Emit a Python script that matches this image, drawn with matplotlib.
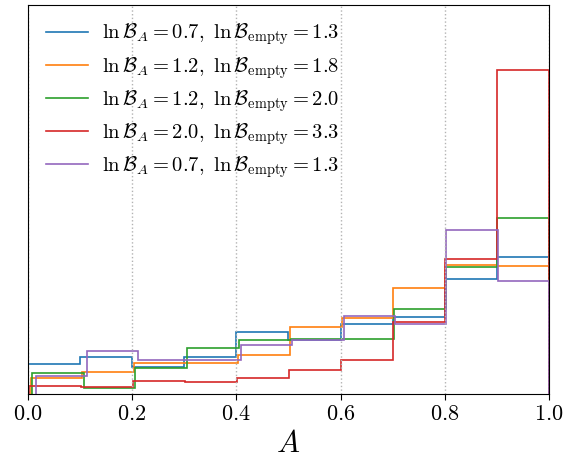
import numpy as np
import matplotlib
matplotlib.use("Agg")
import matplotlib.pyplot as plt

plt.rcParams['font.family'] = 'serif'
plt.rcParams['font.serif'] = ['cmr10']
plt.rcParams['mathtext.fontset'] = 'cm'
plt.rcParams['axes.formatter.use_mathtext'] = True

# histogram heights per series (arbitrary units, 10 bins each)
blue = [29.7, 37.0, 26.7, 37.3, 62.3, 54.0, 70.3, 76.7, 115.0, 137.3]
orange = [15.7, 22.0, 30.7, 30.7, 38.7, 67.3, 76.0, 106.3, 129.0, 128.3]
green = [21.3, 6.3, 26.0, 46.3, 54.0, 55.0, 55.3, 85.3, 127.3, 175.7]
red = [8.3, 7.3, 13.3, 12.3, 16.3, 24.0, 34.0, 71.7, 135.0, 324.0]
purple = [18.0, 42.7, 34.0, 34.0, 49.0, 54.0, 78.0, 70.0, 163.7, 112.7]

# lowest sample of each series (histogram range is [lo, 1])
lows = [0.0, 0.005, 0.008, 0.002, 0.015]

labels = [
    r'$\ln\mathcal{B}_A = 0.7,\ \ln\mathcal{B}_{\rm empty} = 1.3$',
    r'$\ln\mathcal{B}_A = 1.2,\ \ln\mathcal{B}_{\rm empty} = 1.8$',
    r'$\ln\mathcal{B}_A = 1.2,\ \ln\mathcal{B}_{\rm empty} = 2.0$',
    r'$\ln\mathcal{B}_A = 2.0,\ \ln\mathcal{B}_{\rm empty} = 3.3$',
    r'$\ln\mathcal{B}_A = 0.7,\ \ln\mathcal{B}_{\rm empty} = 1.3$',
]
colors = ['tab:blue', 'tab:orange', 'tab:green', 'tab:red', 'tab:purple']

fig = plt.figure(figsize=(5.7, 4.59), dpi=100)
ax = fig.add_axes([0.049, 0.1416, 0.914, 0.847])

for h, lo, c, lab in zip([blue, orange, green, red, purple], lows, colors, labels):
    edges = np.linspace(lo, 1.0, 11)
    ax.stairs(h, edges, color=c, lw=1.2, label=lab)

ax.set_xlim(0, 1)
ax.set_ylim(0, 389)
ax.set_yticks([])
ax.set_xticks([0.0, 0.2, 0.4, 0.6, 0.8, 1.0])
ax.tick_params(axis='x', labelsize=16, length=4)
ax.grid(axis='x', ls=':', color='0.7', lw=1)
ax.set_xlabel(r'$A$', fontsize=22, labelpad=5)

ax.legend(loc='upper left', frameon=False, fontsize=14.8, handlelength=2.0,
          handletextpad=0.7, labelspacing=0.36, bbox_to_anchor=(0.0, 1.005))

fig.savefig('out.png', dpi=100)
